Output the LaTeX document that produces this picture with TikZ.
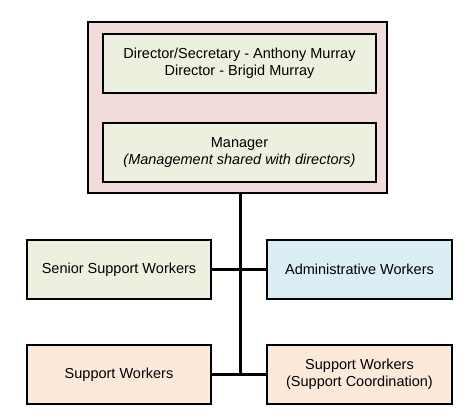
\documentclass[tikz,border=0pt]{standalone}
\usepackage{fontspec}
\setmainfont{Liberation Sans}
\definecolor{orgpink}{RGB}{242,220,219}
\definecolor{rolegreen}{RGB}{235,241,222}
\definecolor{roleblue}{RGB}{218,238,243}
\definecolor{rolepeach}{RGB}{253,233,217}
\begin{document}
\begin{tikzpicture}[x=1pt, y=-1pt,
  box/.style={draw=black, line width=2pt, inner sep=0pt, align=center,
    font=\fontsize{14.5}{17}\selectfont},
  rolebox/.style={box, minimum width=184pt, minimum height=59pt},
  mgmtbox/.style={box, fill=rolegreen, minimum width=273pt, minimum height=59pt},
  link/.style={line width=3pt}]
  % Frame
  \useasboundingbox[fill=white] (0,0) rectangle (472,420);
  % Management group
  \node[box, fill=orgpink, minimum width=299pt, minimum height=171pt] (org) at (237.5,107.5) {};
  \node[mgmtbox] (dir) at (239.5,63.5)
    {Director/Secretary - Anthony Murray\\Director - Brigid Murray};
  \node[mgmtbox] (mgr) at (239.5,152.5)
    {Manager\\\textit{(Management shared with directors)}};
  % Staff
  \node[rolebox, fill=rolegreen] (ssw) at (119,269.5) {Senior Support Workers};
  \node[rolebox, fill=roleblue, minimum width=185pt] (adm) at (359.5,269.5) {Administrative Workers};
  \node[rolebox, fill=rolepeach] (sw) at (119,374.5) {Support Workers};
  \node[rolebox, fill=rolepeach, minimum width=185pt] (swc) at (359.5,374.5)
    {Support Workers\\(Support Coordination)};
  % Connectors
  \coordinate (trunk) at ([xshift=2.5pt]org.south);
  \coordinate (foot) at (trunk |- sw.east);
  \draw[link] (trunk) -- (foot);
  \draw[link] (ssw.east) -- (adm.west);
  \draw[link] (sw.east) -- (swc.west);
\end{tikzpicture}
\end{document}
